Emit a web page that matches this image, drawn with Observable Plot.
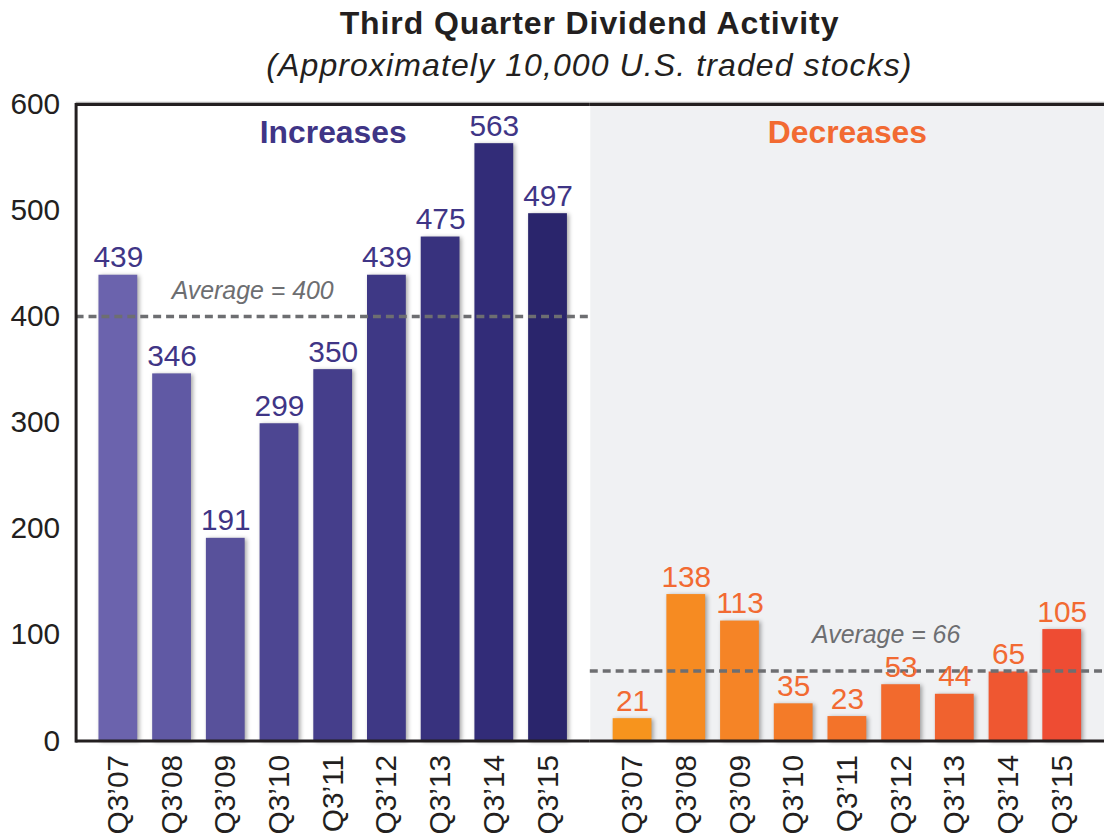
<!DOCTYPE html>
<html><head><meta charset="utf-8">
<script src="https://cdn.jsdelivr.net/npm/d3@7"></script>
<script src="https://cdn.jsdelivr.net/npm/@observablehq/plot@0.6"></script>
<style>
html,body{margin:0;background:#fff;font-family:"Liberation Sans",Arial,sans-serif;overflow:hidden;}
#head{position:relative;height:90px;width:1104px;}
#title{position:absolute;left:75px;right:0;top:7px;text-align:center;font-weight:bold;font-size:32px;line-height:32px;color:#231f20;letter-spacing:0.9px;}
#subtitle{position:absolute;left:75px;right:0;top:49px;text-align:center;font-style:italic;font-size:32px;line-height:32px;color:#231f20;letter-spacing:1.1px;}
#chart svg{display:block;}
#chart svg g[aria-label="bar"] rect{filter:drop-shadow(2px 1px 2px rgba(0,0,0,0.35));}
</style></head>
<body>
<div id="head"><div id="title">Third Quarter Dividend Activity</div><div id="subtitle">(Approximately 10,000 U.S. traded stocks)</div></div>
<div id="chart"></div>
<script>
const groups = ["Increases", "Decreases"];
const quarters = ["Q3’07","Q3’08","Q3’09","Q3’10","Q3’11","Q3’12","Q3’13","Q3’14","Q3’15"];
const increases = [439, 346, 191, 299, 350, 439, 475, 563, 497];
const decreases = [21, 138, 113, 35, 23, 53, 44, 65, 105];
const averages = [400, 66];
const averageLabels = ["Average = 400", "Average = 66"];
const yTicks = [0, 100, 200, 300, 400, 500, 600];

// styling palettes
const increaseColors = ["#6b63ad","#6059a4","#58519b","#4d4692","#453e8b","#3e3885","#38327e","#322c78","#2a256c"];
const decreaseColors = ["#f7941d","#f68b22","#f58426","#f47b28","#f3732a","#f26a2d","#f0622f","#ef5731","#ee4c33"];
const groupColor = {Increases: "#3f3586", Decreases: "#f26a32"};

const rows = [
  ...quarters.map((q, i) => ({group: "Increases", quarter: q, value: increases[i], color: increaseColors[i]})),
  ...quarters.map((q, i) => ({group: "Decreases", quarter: q, value: decreases[i], color: decreaseColors[i]}))
];
const avgRows = groups.map((g, i) => ({group: g, value: averages[i], label: averageLabels[i]}));

const chart = Plot.plot({
  width: 1110,
  height: 750,
  marginTop: 14,
  marginBottom: 96,
  marginLeft: 75,
  marginRight: 0,
  style: {fontFamily: "Liberation Sans, Arial, sans-serif", fontSize: "30px", color: "#231f20", background: "white", overflow: "visible"},
  fx: {domain: groups, padding: 0, axis: null, label: null},
  x: {domain: quarters, paddingInner: 0.284, paddingOuter: 0.38, label: null},
  y: {domain: [0, 600], label: null},
  color: {type: "identity"},
  marks: [
    Plot.frame({fill: "#f0f1f3", stroke: "none", fx: ["Decreases"]}),
    Plot.barY(rows, {fx: "group", x: "quarter", y: "value", fill: "color"}),
    Plot.ruleY(avgRows, {fx: "group", y: "value", stroke: "#6d6e71", strokeWidth: 3.5, strokeDasharray: "8,5"}),
    Plot.text(rows, {fx: "group", x: "quarter", y: "value", text: d => String(d.value), fill: d => groupColor[d.group], lineAnchor: "bottom", dy: -8, fontSize: 30}),
    Plot.text(groups, {fx: d => d, text: d => d, frameAnchor: "top", lineAnchor: "middle", dy: 29, fontSize: 32, fontWeight: "bold", fill: d => groupColor[d]}),
    Plot.text(avgRows.filter(d => d.group === "Increases"), {fx: "group", x: () => quarters[2], y: "value", text: "label", dx: 27, dy: -18, lineAnchor: "bottom", fontSize: 25, fontStyle: "italic", fill: "#6d6e71"}),
    Plot.text(avgRows.filter(d => d.group === "Decreases"), {fx: "group", x: () => quarters[5], y: "value", text: "label", dx: -15, dy: -28, lineAnchor: "bottom", fontSize: 25, fontStyle: "italic", fill: "#6d6e71"}),
    Plot.ruleY([600], {stroke: "#b0b0b0", strokeWidth: 1.5, dy: -2}),
    Plot.ruleY([0, 600], {stroke: "#231f20", strokeWidth: 3}),
    Plot.frame({anchor: "left", stroke: "#231f20", strokeWidth: 3, fx: ["Increases"]}),
    Plot.axisY(yTicks, {tickSize: 0, tickPadding: 16, fontSize: 30, label: null, fill: "#231f20"}),
    Plot.axisX({tickRotate: -90, tickSize: 0, tickPadding: 14, fontSize: 30, label: null, fill: "#231f20"})
  ]
});
document.getElementById("chart").appendChild(chart);
</script>
</body></html>
